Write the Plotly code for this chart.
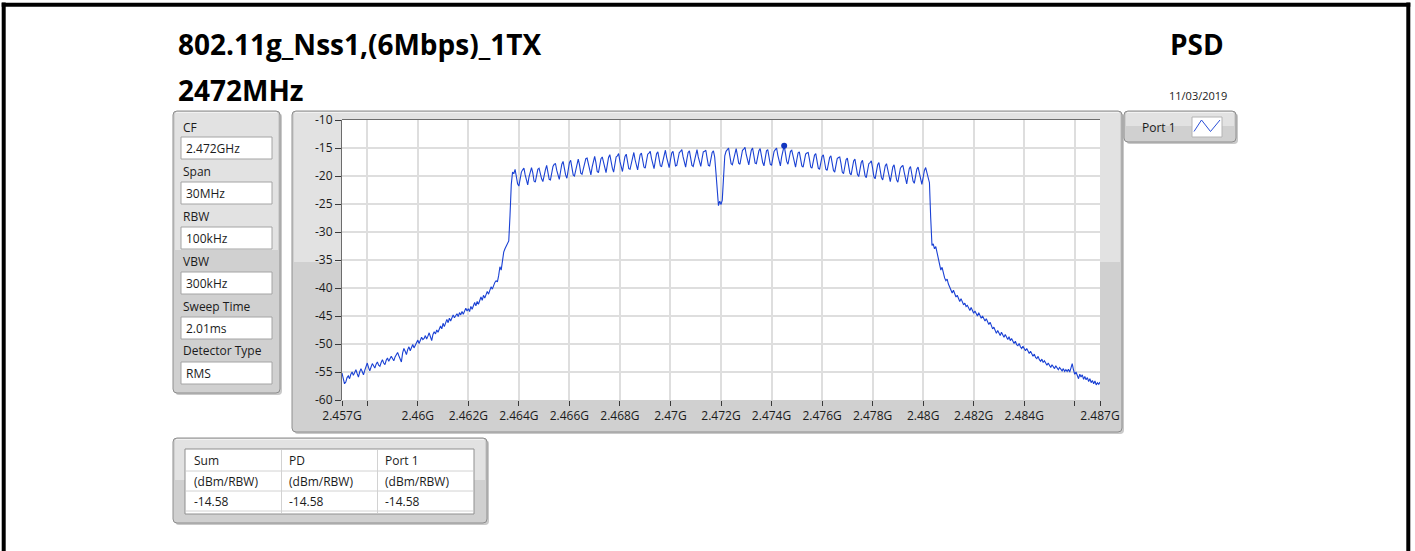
import numpy as np
import plotly.graph_objects as go

# ---- sweep settings -------------------------------------------------------
CENTER_GHZ = 2.472
SPAN_GHZ = 0.030
START_GHZ = CENTER_GHZ - SPAN_GHZ / 2
STOP_GHZ = CENTER_GHZ + SPAN_GHZ / 2

# ---- measured PSD (dBm / RBW), 50 kHz bins --------------------------------
psd_low_skirt = [
    -55.2, -56.3, -57.1, -56.8, -56.0, -55.7, -56.2, -55.4, -55.0, -55.6,
    -55.1, -54.6, -55.3, -55.9, -55.0, -54.4, -54.9, -55.5, -54.7, -54.0,
    -53.4, -54.2, -54.8, -54.1, -53.5, -53.9, -54.3, -53.6, -53.2, -53.8,
    -54.0, -53.3, -52.8, -53.4, -53.7, -52.9, -52.5, -53.1, -52.7, -52.2,
    -52.6, -53.0, -52.3, -51.8, -51.5, -52.1, -52.8, -53.2, -51.6, -50.8,
    -51.3, -51.9, -51.0, -50.5, -51.2, -50.6, -50.1, -50.7, -50.2, -49.6,
    -49.3, -49.9, -49.4, -48.8, -49.2, -49.0, -48.5, -49.1, -48.6, -48.0,
    -48.7, -49.4, -48.3, -47.8, -48.2, -47.5, -47.9, -47.2, -46.8, -47.3,
    -46.3, -46.9, -46.1, -45.6, -46.2, -45.4, -45.9, -45.2, -44.8, -45.3,
    -45.0, -44.6, -45.1, -44.4, -44.8, -44.2, -44.7, -44.0, -43.6, -44.1,
    -43.7, -44.2, -43.3, -43.8, -43.1, -42.6, -43.2, -42.4, -42.9, -42.0,
    -41.6, -42.2, -41.3, -41.8, -41.0, -40.6, -41.1, -40.3, -39.8, -40.2,
    -39.4, -39.0, -38.7, -38.9, -37.8, -36.2, -36.8, -35.1, -33.6, -33.0,
    -32.6, -32.1, -31.6, -27.0,
]

psd_passband = [
    -21.5, -19.3, -19.6, -18.8, -20.1, -21.4, -21.8, -20.6, -19.3, -18.9,
    -18.6, -19.8, -20.7, -21.6, -20.2, -19.0, -18.5, -19.4, -20.9, -21.1,
    -20.1, -18.8, -18.6, -19.7, -20.5, -21.0, -19.6, -18.9, -18.1, -19.4,
    -20.6, -20.7, -19.5, -18.3, -17.9, -17.8, -19.0, -20.1, -20.6, -19.2,
    -17.9, -17.4, -18.7, -19.8, -20.4, -19.0, -17.6, -17.2, -18.4, -19.8,
    -20.0, -18.8, -17.5, -17.0, -18.0, -19.5, -19.7, -18.7, -17.3, -16.9,
    -16.8, -17.9, -19.1, -19.8, -18.4, -17.1, -16.5, -17.6, -19.2, -19.4,
    -18.2, -16.9, -16.6, -17.6, -18.8, -19.4, -18.0, -16.7, -16.2, -17.5,
    -18.6, -19.3, -17.9, -16.6, -16.4, -16.0, -17.4, -18.5, -19.2, -17.8,
    -16.5, -16.1, -17.2, -18.7, -18.8, -17.6, -16.3, -15.8, -17.1, -18.2,
    -18.9, -17.5, -16.2, -15.9, -17.0, -18.4, -18.6, -17.4, -16.1, -15.9,
    -15.6, -16.9, -18.0, -18.7, -17.3, -16.0, -15.7, -16.8, -18.2, -18.3,
    -17.2, -15.9, -15.4, -16.7, -17.9, -18.5, -17.1, -15.9, -15.6, -16.8,
    -18.2, -18.1, -17.0, -15.8, -15.6, -15.3, -16.6, -17.8, -18.4, -17.0,
    -15.8, -15.5, -16.7, -18.1, -18.3, -17.1, -15.9, -15.3, -16.6, -17.7,
    -18.3, -16.9, -15.7, -15.6, -15.4, -16.8, -18.1, -18.2, -17.0, -15.8,
    -15.5, -16.6, -19.4, -22.3, -25.3, -24.5, -25.1, -24.3, -19.2, -16.4,
    -15.6, -15.2, -15.0, -16.4, -17.8, -18.0, -16.8, -15.6, -15.1, -16.3,
    -17.7, -17.9, -16.7, -15.4, -15.2, -14.9, -16.2, -17.4, -18.0, -16.6,
    -15.4, -15.0, -16.3, -17.7, -17.8, -16.7, -15.5, -15.1, -16.4, -17.6,
    -18.2, -16.8, -15.5, -15.3, -16.5, -17.9, -18.1, -16.9, -15.6, -15.3,
    -15.0, -16.3, -17.5, -18.2, -16.6, -15.2, -14.58, -15.9, -17.4, -17.9,
    -16.8, -15.6, -15.4, -16.6, -17.8, -18.4, -17.1, -15.9, -15.7, -16.9,
    -18.2, -18.4, -17.3, -16.1, -15.9, -15.8, -17.0, -18.4, -18.6, -17.5,
    -16.3, -16.0, -17.2, -18.6, -18.8, -17.7, -16.5, -16.2, -17.4, -18.8,
    -19.0, -17.9, -16.7, -16.4, -17.6, -19.0, -19.3, -18.2, -16.9, -16.7,
    -16.6, -17.8, -19.3, -19.6, -18.4, -17.1, -16.8, -18.0, -19.5, -19.8,
    -18.6, -17.3, -17.0, -18.2, -19.7, -20.1, -18.9, -17.6, -17.2, -18.4,
    -19.9, -20.3, -19.1, -17.8, -17.6, -17.3, -18.6, -20.1, -20.5, -19.3,
    -18.0, -17.6, -18.8, -20.3, -20.7, -19.5, -18.2, -17.8, -19.0, -20.5,
    -21.0, -19.7, -18.4, -18.0, -19.2, -20.7, -21.1, -19.9, -18.6, -18.3,
    -18.1, -19.3, -20.8, -21.4, -20.0, -18.7, -18.3, -19.4, -20.9, -21.3,
    -20.2, -18.8, -18.4, -19.6, -21.0, -21.5, -20.3, -19.0, -18.5, -19.4,
    -20.1, -21.2, -27.5, -32.4,
]

psd_high_skirt = [
    -32.1, -33.0, -32.6, -33.6, -34.8, -35.9, -36.8, -36.3, -37.4, -38.2,
    -38.7, -38.4, -39.3, -39.8, -40.5, -40.9, -40.4, -41.2, -41.6, -41.3,
    -42.0, -42.4, -41.9, -42.6, -43.0, -42.7, -43.3, -43.1, -43.6, -44.0,
    -43.5, -44.2, -44.5, -44.1, -44.7, -45.0, -44.4, -44.9, -45.4, -45.0,
    -45.6, -45.9, -45.5, -46.2, -46.5, -46.1, -46.8, -47.3, -47.0, -47.7,
    -48.1, -47.6, -48.2, -48.5, -47.9, -48.4, -48.8, -48.3, -48.9, -49.2,
    -48.7, -49.4, -49.0, -49.6, -49.9, -49.5, -50.1, -50.3, -49.9, -50.5,
    -50.8, -50.4, -50.9, -51.2, -50.8, -51.4, -51.7, -51.3, -51.9, -52.2,
    -51.8, -52.4, -52.6, -52.2, -52.8, -53.1, -52.7, -53.3, -53.0, -53.5,
    -53.8, -53.4, -53.9, -54.2, -53.7, -54.0, -54.4, -53.9, -54.3, -54.6,
    -54.2, -54.5, -54.8, -54.4, -54.9, -54.6, -54.9, -54.5, -55.0, -54.3,
    -53.5, -54.6, -55.4, -55.0, -55.7, -56.2, -55.4, -55.9, -55.5, -56.3,
    -55.8, -56.4, -56.0, -56.7, -56.2, -56.9, -56.5, -57.1, -56.6, -57.3,
    -56.9, -57.2, -56.8,
]

psd_dbm = np.array(psd_low_skirt + psd_passband + psd_high_skirt)
freq_ghz = np.linspace(START_GHZ, STOP_GHZ, len(psd_dbm))

# ---- axis ticks -----------------------------------------------------------
x_tick_vals = [2.457, 2.458, 2.460, 2.462, 2.464, 2.466, 2.468, 2.470,
               2.472, 2.474, 2.476, 2.478, 2.480, 2.482, 2.484, 2.486, 2.487]
x_tick_text = ["2.457G", "", "2.46G", "2.462G", "2.464G", "2.466G", "2.468G",
               "2.47G", "2.472G", "2.474G", "2.476G", "2.478G", "2.48G",
               "2.482G", "2.484G", "", "2.487G"]
y_tick_vals = [-10, -15, -20, -25, -30, -35, -40, -45, -50, -55, -60]
y_tick_text = ["-10", "-15", "-20", "-25", "-30", "-35", "-40", "-45",
               "-50", "-55", "-60"]

# ---- panel text -----------------------------------------------------------
title_text = "802.11g_Nss1,(6Mbps)_1TX"
channel_text = "2472MHz"
measure_text = "PSD"
date_text = "11/03/2019"
setting_labels = ["CF", "Span", "RBW", "VBW", "Sweep Time", "Detector Type"]
setting_values = ["2.472GHz", "30MHz", "100kHz", "300kHz", "2.01ms", "RMS"]
table_headers = ["Sum", "PD", "Port 1"]
table_unit = "(dBm/RBW)"
legend_name = "Port 1"

peak_idx = int(np.argmax(psd_dbm))
peak_freq = float(freq_ghz[peak_idx])
peak_dbm = float(psd_dbm[peak_idx])
table_values = [f"{peak_dbm:.2f}"] * 3

# ---- page geometry (pixels) -----------------------------------------------
W, H = 1415, 551
PL, PR, PT, PB = 342, 1100, 120, 400


def fx(x):
    return (x - PL) / (PR - PL)


def fy(y):
    return (PB - y) / (PB - PT)


shapes = []
annotations = []

FONT = "Open Sans"
TXT = "#1b1b1b"


def rect(x0, y0, x1, y1, fill, line=None, lw=1, layer="below"):
    shapes.append(dict(
        type="rect", xref="paper", yref="paper",
        x0=fx(x0), x1=fx(x1), y0=fy(y1), y1=fy(y0),
        fillcolor=fill, layer=layer,
        line=dict(color=line if line else "rgba(0,0,0,0)", width=lw if line else 0),
    ))


def hline(x0, x1, y, color, lw=1, layer="below"):
    shapes.append(dict(type="line", xref="paper", yref="paper",
                       x0=fx(x0), x1=fx(x1), y0=fy(y), y1=fy(y),
                       line=dict(color=color, width=lw), layer=layer))


def vline(x, y0, y1, color, lw=1, layer="below"):
    shapes.append(dict(type="line", xref="paper", yref="paper",
                       x0=fx(x), x1=fx(x), y0=fy(y0), y1=fy(y1),
                       line=dict(color=color, width=lw), layer=layer))


def rrect(x0, y0, x1, y1, r, fill, line=None, lw=1):
    p = (f"M {fx(x0 + r)},{fy(y0)} L {fx(x1 - r)},{fy(y0)} "
         f"Q {fx(x1)},{fy(y0)} {fx(x1)},{fy(y0 + r)} "
         f"L {fx(x1)},{fy(y1 - r)} Q {fx(x1)},{fy(y1)} {fx(x1 - r)},{fy(y1)} "
         f"L {fx(x0 + r)},{fy(y1)} Q {fx(x0)},{fy(y1)} {fx(x0)},{fy(y1 - r)} "
         f"L {fx(x0)},{fy(y0 + r)} Q {fx(x0)},{fy(y0)} {fx(x0 + r)},{fy(y0)} Z")
    shapes.append(dict(type="path", xref="paper", yref="paper", path=p,
                       fillcolor=fill, layer="below",
                       line=dict(color=line if line else "rgba(0,0,0,0)",
                                 width=lw if line else 0)))


def panel(x0, y0, x1, y1, split):
    rrect(x0 + 2, y0 + 2, x1 + 2, y1 + 2, 4, "#c9c9c9")
    rrect(x0, y0, x1, y1, 4, "#d0d0d0", "#8e8e8e", 1)
    rect(x0 + 2, y0 + 2, x1 - 2, split, "#e2e2e2")
    hline(x0 + 3, x1 - 3, y0 + 1.5, "#f2f2f2", 1)


def text(x, y, s, size=12, anchor="left", bold=False, color=TXT):
    annotations.append(dict(
        x=fx(x), y=fy(y), xref="paper", yref="paper", text=s,
        showarrow=False, xanchor=anchor, yanchor="middle",
        font=dict(family=FONT, size=size, color=color,
                  weight=700 if bold else 400),
    ))


# graph panel
panel(292, 111, 1122, 432, 262)
rect(PL, PT, PR, PB, "#ffffff")
hline(PL, PR, PT - 0.5, "#6c6c6c", 1)

# settings panel
panel(173, 111, 280, 393, 250)
label_y = [127, 171.5, 216, 261, 306, 350.5]
box_y = [(137, 159), (182, 204), (227, 249), (272, 294), (317, 339), (362, 384)]
for lab, val, ly, (b0, b1) in zip(setting_labels, setting_values, label_y, box_y):
    text(181, ly, lab, 12)
    rect(181, b0, 272, b1, "#ffffff", "#a4a4a4", 1)
    text(184, (b0 + b1) / 2, val, 12)

# legend
panel(1124, 111, 1236, 142, 126)
text(1140, 127, legend_name, 12)
rect(1192, 117, 1222, 137, "#ffffff", "#b4b4b4", 1)
icon = (f"M {fx(1194)},{fy(131.5)} L {fx(1201.5)},{fy(120)} "
        f"L {fx(1210.5)},{fy(131.5)} L {fx(1220)},{fy(120)}")
shapes.append(dict(type="path", xref="paper", yref="paper", path=icon,
                   line=dict(color="#2a4fd8", width=1), layer="below"))

# result table
panel(173, 438, 487, 523, 480)
rect(185, 449, 474, 514, "#ffffff", "#8f8f8f", 1)
for yy in (471, 491, 511):
    hline(186, 473, yy, "#d2d2d2", 1)
for xx in (281.5, 377.5):
    vline(xx, 450, 513, "#d2d2d2", 1)
col_x = [192, 287, 383]
for cx, head, val in zip(col_x, table_headers, table_values):
    text(cx, 460.5, head, 12)
    text(cx, 481, table_unit, 12)
    text(cx, 501, val, 12)

# headings
text(176, 44, title_text, 28, bold=True, color="#000000")
text(176, 90, channel_text, 28, bold=True, color="#000000")
text(1226, 44, measure_text, 28, anchor="right", bold=True, color="#000000")
text(1229, 95, date_text, 11, anchor="right")

# outer frame
vline(3.7, 2.5, 551, "#000000", 4, layer="above")
hline(1.7, 1410.3, 4.7, "#000000", 4, layer="above")
vline(1408.3, 2.5, 551, "#000000", 4, layer="above")

fig = go.Figure()
fig.add_trace(go.Scatter(
    x=freq_ghz, y=psd_dbm, mode="lines", name=legend_name,
    line=dict(color="#1a41d4", width=1.1), hoverinfo="x+y",
))
fig.add_trace(go.Scatter(
    x=[peak_freq], y=[peak_dbm], mode="markers", showlegend=False,
    marker=dict(color="#1236c0", size=6),
))

fig.update_layout(
    width=W, height=H, autosize=False,
    margin=dict(l=PL, r=W - PR, t=PT, b=H - PB, pad=0),
    paper_bgcolor="#ffffff", plot_bgcolor="rgba(0,0,0,0)",
    showlegend=False,
    shapes=shapes, annotations=annotations,
    font=dict(family=FONT, size=12, color=TXT),
    xaxis=dict(
        range=[START_GHZ, STOP_GHZ], tickmode="array",
        tickvals=x_tick_vals, ticktext=x_tick_text,
        showgrid=True, gridcolor="#dedede", gridwidth=2,
        zeroline=False, showline=False,
        ticks="outside", ticklen=5, tickcolor="#3a3a3a", tickwidth=1,
        tickfont=dict(family=FONT, size=12, color=TXT),
    ),
    yaxis=dict(
        range=[-60, -10], tickmode="array",
        tickvals=y_tick_vals, ticktext=y_tick_text,
        showgrid=True, gridcolor="#dedede", gridwidth=2,
        zeroline=False, showline=True, linecolor="#6c6c6c", linewidth=1,
        ticks="outside", ticklen=6, tickcolor="#3a3a3a", tickwidth=1,
        tickfont=dict(family=FONT, size=12, color=TXT),
    ),
)

fig.write_html("out.html", config={"displayModeBar": False})
